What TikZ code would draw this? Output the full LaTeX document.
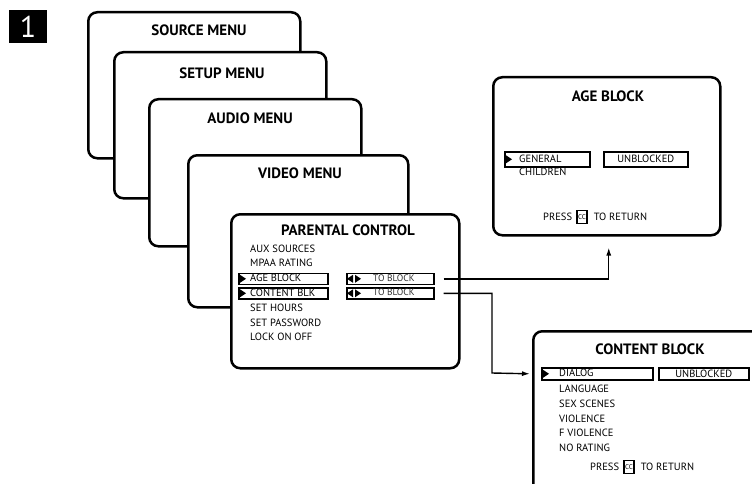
\documentclass[tikz,border=0pt]{standalone}
\usepackage{fontspec}
\setmainfont{PT Sans}
\usetikzlibrary{positioning, arrows.meta, calc}

\tikzset{
  menubox/.style={draw, line width=2.5pt, rounded corners=9pt, fill=white, anchor=north west, inner sep=0pt},
  menutitle/.style={inner sep=0pt, font=\bfseries\fontsize{15}{17}\selectfont},
  itemtext/.style={anchor=west, inner sep=0pt, font=\fontsize{10.5}{12}\selectfont},
  selbox/.style={draw, line width=1.6pt, anchor=north west, inner sep=0pt},
  ccbox/.style={draw, line width=1.4pt, inner sep=0pt, minimum width=10pt, minimum height=13pt, font=\fontsize{7}{8}\selectfont},
  badge/.style={fill=black, text=white, inner sep=0pt, minimum width=38pt, minimum height=33pt, font=\fontsize{30}{30}\selectfont},
  link/.style={line width=1.4pt, -{Latex[length=8pt,width=5pt]}}
}
\newcommand{\pointright}[1]{\fill ([xshift=2pt]#1.west) ++(0,-4) -- ++(6,4) -- ++(-6,4) -- cycle;}
\newcommand{\leftright}[1]{
  \fill ([xshift=7pt]#1.west) ++(0,-4) -- ++(-6,4) -- ++(6,4) -- cycle;
  \fill ([xshift=9pt]#1.west) ++(0,-4) -- ++(6,4) -- ++(-6,4) -- cycle;}

\begin{document}
\begin{tikzpicture}[x=1pt, y=-1pt]
        \useasboundingbox (0,0) rectangle (752,484);
        \clip (0,0) rectangle (752,484);

        \node[badge] (num) at (28,27) {1};

        % Stacked menus
        \node[menubox, minimum width=212pt, minimum height=146pt] (source) at (87,11) {};
        \node[menutitle] (sourcet) at (199,30) {SOURCE MENU};

        \node[menubox, minimum width=212pt, minimum height=146pt] (setup) at (113,51) {};
        \node[menutitle] (setupt) at (222,73) {SETUP MENU};

        \node[menubox, minimum width=212pt, minimum height=147pt] (audio) at (148,98) {};
        \node[menutitle] (audiot) at (250,118) {AUDIO MENU};

        \node[menubox, minimum width=220pt, minimum height=152pt] (video) at (187,154) {};
        \node[menutitle] (videot) at (300,173) {VIDEO MENU};

        % Parental control
        \node[menubox, minimum width=228pt, minimum height=154pt] (parent) at (230,213) {};
        \node[menutitle] (parentt) at (348,230) {PARENTAL CONTROL};
        \node[itemtext] (aux) at (250,249) {AUX SOURCES};
        \node[itemtext] (mpaa) at (250,263) {MPAA RATING};
        \node[selbox, minimum width=89pt, minimum height=11pt] (agesel) at (238,272.5) {};
        \pointright{agesel}
        \node[itemtext] (agei) at (250,278) {AGE BLOCK};
        \node[selbox, minimum width=89pt, minimum height=11pt] (contsel) at (238,287) {};
        \pointright{contsel}
        \node[itemtext] (conti) at (250,292.5) {CONTENT BLK};
        \node[selbox, minimum width=87pt, minimum height=11pt] (ageto) at (346,272.5) {};
        \leftright{ageto}
        \node[itemtext, text=black!80, font=\fontsize{9.5}{11}\selectfont] at (373,278) {TO BLOCK};
        \node[selbox, minimum width=87pt, minimum height=11pt] (contto) at (346,287) {};
        \leftright{contto}
        \node[itemtext, text=black!80, font=\fontsize{9.5}{11}\selectfont] at (373,292.5) {TO BLOCK};
        \node[itemtext] (hours) at (250,308) {SET HOURS};
        \node[itemtext] (passw) at (250,323) {SET PASSWORD};
        \node[itemtext] (lock) at (250,337) {LOCK ON OFF};

        % Age block
        \node[menubox, minimum width=227pt, minimum height=158pt] (ageblk) at (492,76) {};
        \node[menutitle] (ageblkt) at (608,96) {AGE BLOCK};
        \node[selbox, minimum width=85pt, minimum height=15pt] (gensel) at (504,151) {};
        \pointright{gensel}
        \node[itemtext] (gen) at (519,158.5) {GENERAL};
        \node[selbox, minimum width=84pt, minimum height=15pt, font=\fontsize{10.5}{12}\selectfont] (ageunbl) at (603,151) {UNBLOCKED};
        \node[itemtext] (child) at (519,172) {CHILDREN};
        \node[ccbox] (agecc) at (582,217) {CC};
        \node[itemtext, left=4pt of agecc] (agepress) {PRESS};
        \node[itemtext, right=6pt of agecc] (ageret) {TO RETURN};

        % Content block
        \node[menubox, minimum width=236pt, minimum height=170pt] (contblk) at (532,330) {};
        \node[menutitle] (contblkt) at (650,349) {CONTENT BLOCK};
        \node[selbox, minimum width=111pt, minimum height=12pt] (dialog) at (541,367) {};
        \pointright{dialog}
        \node[itemtext] (dia) at (559,373) {DIALOG};
        \node[selbox, minimum width=90pt, minimum height=12pt, font=\fontsize{10.5}{12}\selectfont] (contunbl) at (658,367) {UNBLOCKED};
        \node[itemtext] (lang) at (559,389) {LANGUAGE};
        \node[itemtext] (sex) at (559,404) {SEX SCENES};
        \node[itemtext] (viol) at (559,419) {VIOLENCE};
        \node[itemtext] (fviol) at (559,433) {F VIOLENCE};
        \node[itemtext] (norat) at (559,448) {NO RATING};
        \node[ccbox] (contcc) at (629,467) {CC};
        \node[itemtext, left=4pt of contcc] (contpress) {PRESS};
        \node[itemtext, right=6pt of contcc] (contret) {TO RETURN};

        % Links
        \draw[link] ([xshift=9pt]ageto.east) -| ([xshift=2pt, yshift=-11pt]ageblk.south);
        \coordinate (contturn) at (492,373);
        \draw[link] ([xshift=9pt]contto.east) -| (contturn) -- ([xshift=-2pt]contblk.west |- dialog.west);
      \end{tikzpicture}
\end{document}
